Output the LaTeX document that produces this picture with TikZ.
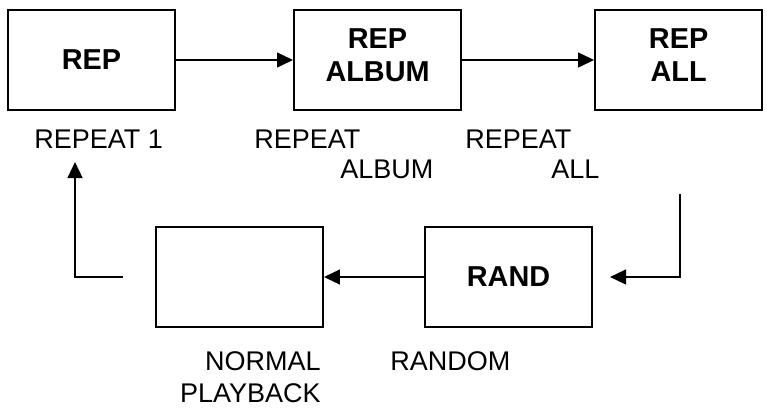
\documentclass[tikz,border=0pt]{standalone}
\usepackage{fontspec}
\setmainfont{Liberation Sans}
\usetikzlibrary{arrows.meta, positioning, calc}

\begin{document}
\begin{tikzpicture}[
    x=0.025cm, y=-0.025cm,
    mode/.style={rectangle, draw, line width=1.4pt, minimum width=4.175cm, minimum height=2.5cm, align=center, inner sep=0pt, font=\fontsize{20.5}{24}\selectfont\bfseries},
    twoline/.style={text depth=0.25cm},
    caption/.style={inner sep=0pt, font=\fontsize{19.2}{23}\selectfont},
    arrow/.style={-{Triangle[length=0.4cm, width=0.37cm]}, line width=1.4pt}
]
\useasboundingbox (0,0) rectangle (767,409);

% Top row
\node[mode] (rep) at (91.5, 60) {REP};
\node[mode, twoline, right=2.925cm of rep] (repalbum) {REP\\ALBUM};
\node[mode, twoline, right=3.3cm of repalbum] (repall) {REP\\ALL};

% Bottom row
\node[mode] (rand) at (508.5, 277) {RAND};
\node[mode, left=2.5cm of rand] (normal) {};

% Captions
\node[caption, anchor=base west] (rep1lbl) at (34, 148) {REPEAT 1};
\node[caption, anchor=base west] (albumlbla) at (254, 148) {REPEAT};
\node[caption, anchor=base west] (albumlblb) at (340, 178) {ALBUM};
\node[caption, anchor=base west] (alllbla) at (465, 148) {REPEAT};
\node[caption, anchor=base west] (alllblb) at (551, 178) {ALL};
\node[caption, anchor=base west] (randlbl) at (390, 370) {RANDOM};
\node[caption, anchor=base east] (normlbla) at (321, 370) {NORMAL};
\node[caption, anchor=base east] (normlblb) at (321, 402) {PLAYBACK};

% Loose ends of the loop
\coordinate (allout) at ($(repall.south)+(1, 83)$);
\coordinate (randin) at ($(rand.east)+(17, 0)$);
\coordinate (normout) at ($(normal.west)+(-32, 0)$);
\coordinate (repin) at ($(rep.south)+(-16.5, 51)$);

% Arrows
\draw[arrow] (rep) -- (repalbum);
\draw[arrow] (repalbum) -- (repall);
\draw[arrow] (allout) |- (randin);
\draw[arrow] (rand) -- (normal);
\draw[arrow] (normout) -| (repin);

\end{tikzpicture}
\end{document}
